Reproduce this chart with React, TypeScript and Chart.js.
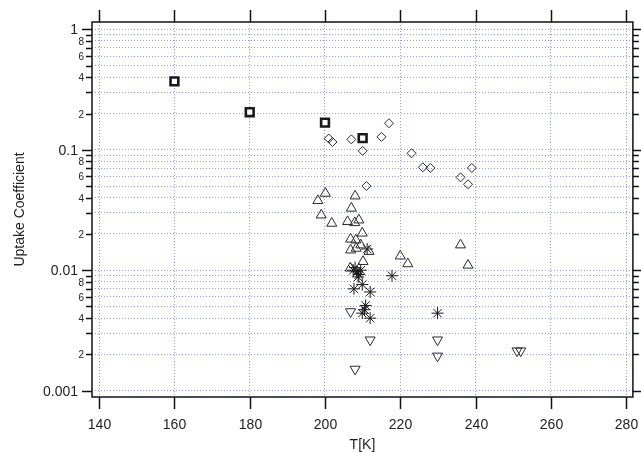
import React, { useEffect, useRef } from 'react';
import { Chart, registerables } from 'chart.js';

Chart.register(...registerables);

// ---- data ----
const squareT = [160, 180, 200, 210];
const squareGamma = [0.37, 0.205, 0.168, 0.125];

const diamondT = [201, 202, 207, 210, 211, 215, 217, 223, 226, 228, 236, 238, 239];
const diamondGamma = [0.124, 0.116, 0.122, 0.098, 0.05, 0.128, 0.166, 0.0935, 0.0715, 0.0706, 0.059, 0.0517, 0.0706];

const triUpT = [200.1, 198.1, 208, 207, 199, 201.8, 206, 207.9, 209, 209.9, 206.8, 208.2, 209.5, 206.8, 208.3, 211.7, 210.1, 206.7, 220, 222, 236, 238];
const triUpGamma = [0.0435, 0.0378, 0.0413, 0.0327, 0.0287, 0.0245, 0.0253, 0.0248, 0.0261, 0.0203, 0.0181, 0.0178, 0.0162, 0.0147, 0.0152, 0.0143, 0.0118, 0.0104, 0.0131, 0.0113, 0.0162, 0.011];

const starT = [211.2, 208, 208.5, 209, 207.5, 209.5, 208.8, 209.9, 207.7, 212, 210.8, 209.9, 212, 210.5, 217.8, 229.9];
const starGamma = [0.015, 0.0105, 0.0097, 0.0092, 0.01, 0.01, 0.0088, 0.0076, 0.007, 0.0066, 0.0051, 0.0044, 0.004, 0.0047, 0.009, 0.0044];

const triDownT = [206.8, 212, 208, 229.9, 229.9, 251, 252];
const triDownGamma = [0.00453, 0.00264, 0.00151, 0.00264, 0.00194, 0.00214, 0.00214];

// ---- axes ----
const xMin = 138.1;
const xMax = 281.8;
const xTickValues = [140, 160, 180, 200, 220, 240, 260, 280];
const yMin = 0.000886;
const yMax = 1.15;
const yDecades = [0.001, 0.01, 0.1, 1];
const yDecadeLabels = ['0.001', '0.01', '0.1', '1'];
const yMinorMultipliers = [2, 3, 4, 5, 6, 7, 8, 9];
const yLabeledMinor = [2, 4, 6, 8];

const xTitle = 'T[K]';
const yTitle = 'Uptake Coefficient';

const FONT = '"Liberation Sans", Arial, sans-serif';
const GRID = 'rgba(75, 90, 200, 0.6)';

type YTick = { value: number; major: boolean; label: string };

function buildYTicks(): YTick[] {
  const out: YTick[] = [];
  yDecades.forEach((d, i) => {
    out.push({ value: d, major: true, label: yDecadeLabels[i] });
    if (d < 1) {
      yMinorMultipliers.forEach((m) => {
        const v = m * d;
        if (v >= yMin && v <= yMax) {
          out.push({ value: v, major: false, label: yLabeledMinor.includes(m) ? String(m) : '' });
        }
      });
    }
  });
  return out;
}

const yTicks = buildYTicks();

const pts = (xs: number[], ys: number[]) => xs.map((x, i) => ({ x, y: ys[i] }));

const framePlugin = {
  id: 'frameAndLabels',
  afterDraw(chart: any) {
    const { ctx, chartArea: a, scales } = chart;
    const xs = scales.x;
    const ys = scales.y;
    ctx.save();
    ctx.strokeStyle = '#111';
    ctx.lineWidth = 1.5;
    ctx.setLineDash([]);
    ctx.strokeRect(a.left, a.top, a.right - a.left, a.bottom - a.top);
    const line = (x1: number, y1: number, x2: number, y2: number) => {
      ctx.beginPath();
      ctx.moveTo(x1, y1);
      ctx.lineTo(x2, y2);
      ctx.stroke();
    };
    ctx.fillStyle = '#222';
    ctx.font = `14px ${FONT}`;
    ctx.textAlign = 'center';
    ctx.textBaseline = 'middle';
    xTickValues.forEach((v) => {
      const px = Math.round(xs.getPixelForValue(v)) + 0.5;
      line(px, a.bottom, px, a.bottom + 12);
      line(px, a.top, px, a.top - 12);
      ctx.fillText(String(v), px, a.bottom + 28);
    });
    yTicks.forEach((t) => {
      const py = Math.round(ys.getPixelForValue(t.value)) + 0.5;
      const len = t.major ? 10 : 6;
      line(a.left - len, py, a.left, py);
      line(a.right, py, a.right + len, py);
      if (t.label) {
        ctx.textAlign = 'right';
        if (t.major) {
          ctx.font = `14px ${FONT}`;
          ctx.fillText(t.label, a.left - 14, py + 0.5);
        } else {
          ctx.font = `10px ${FONT}`;
          ctx.fillText(t.label, a.left - 8, py + 0.5);
        }
      }
    });
    ctx.font = `14px ${FONT}`;
    ctx.textAlign = 'center';
    ctx.fillText(xTitle, (a.left + a.right) / 2, a.bottom + 48);
    ctx.translate(20, (a.top + a.bottom) / 2);
    ctx.rotate(-Math.PI / 2);
    ctx.fillText(yTitle, 0, 0);
    ctx.restore();
  },
};

export default function App() {
  const ref = useRef<HTMLCanvasElement | null>(null);
  useEffect(() => {
    if (!ref.current) return;
    const common = { showLine: false, borderColor: '#2a2a2a', backgroundColor: 'rgba(0,0,0,0)' };
    const chart = new Chart(ref.current, {
      type: 'scatter',
      data: {
        datasets: [
          { ...common, data: pts(triDownT, triDownGamma), pointStyle: 'triangle', rotation: 180, pointRadius: 5.8, borderWidth: 1 },
          { ...common, data: pts(triUpT, triUpGamma), pointStyle: 'triangle', pointRadius: 5.8, borderWidth: 1 },
          { ...common, data: pts(starT, starGamma), pointStyle: 'star', pointRadius: 6, borderWidth: 1, borderColor: '#1a1a1a' },
          { ...common, data: pts(diamondT, diamondGamma), pointStyle: 'rectRot', pointRadius: 4.5, borderWidth: 1 },
          { ...common, data: pts(squareT, squareGamma), pointStyle: 'rect', pointRadius: 5.5, borderWidth: 2.6, borderColor: '#1a1a1a', backgroundColor: '#ffffff' },
        ] as any,
      },
      options: {
        animation: false,
        responsive: false,
        devicePixelRatio: 1,
        events: [],
        layout: { padding: { top: 22, right: 3, left: 0, bottom: 0 } },
        plugins: { legend: { display: false }, tooltip: { enabled: false } },
        scales: {
          x: {
            type: 'linear',
            min: xMin,
            max: xMax,
            afterBuildTicks: (s: any) => {
              s.ticks = xTickValues.map((v) => ({ value: v }));
            },
            afterFit: (s: any) => {
              s.height = 55;
            },
            ticks: { display: false },
            grid: { color: GRID, lineWidth: 1, drawTicks: false },
            border: { display: false, dash: [1, 2] },
          },
          y: {
            type: 'logarithmic',
            min: yMin,
            max: yMax,
            afterBuildTicks: (s: any) => {
              s.ticks = yTicks.map((t) => ({ value: t.value, major: t.major }));
            },
            afterFit: (s: any) => {
              s.width = 92;
            },
            ticks: { display: false },
            grid: { color: GRID, lineWidth: 1, drawTicks: false },
            border: { display: false, dash: [1, 2] },
          },
        },
      } as any,
      plugins: [framePlugin],
    });
    return () => chart.destroy();
  }, []);
  return (
    <div style={{ position: 'absolute', left: 0, top: 0, width: 641, height: 452, background: '#fff' }}>
      <canvas ref={ref} width={641} height={452} style={{ display: 'block' }} />
    </div>
  );
}
